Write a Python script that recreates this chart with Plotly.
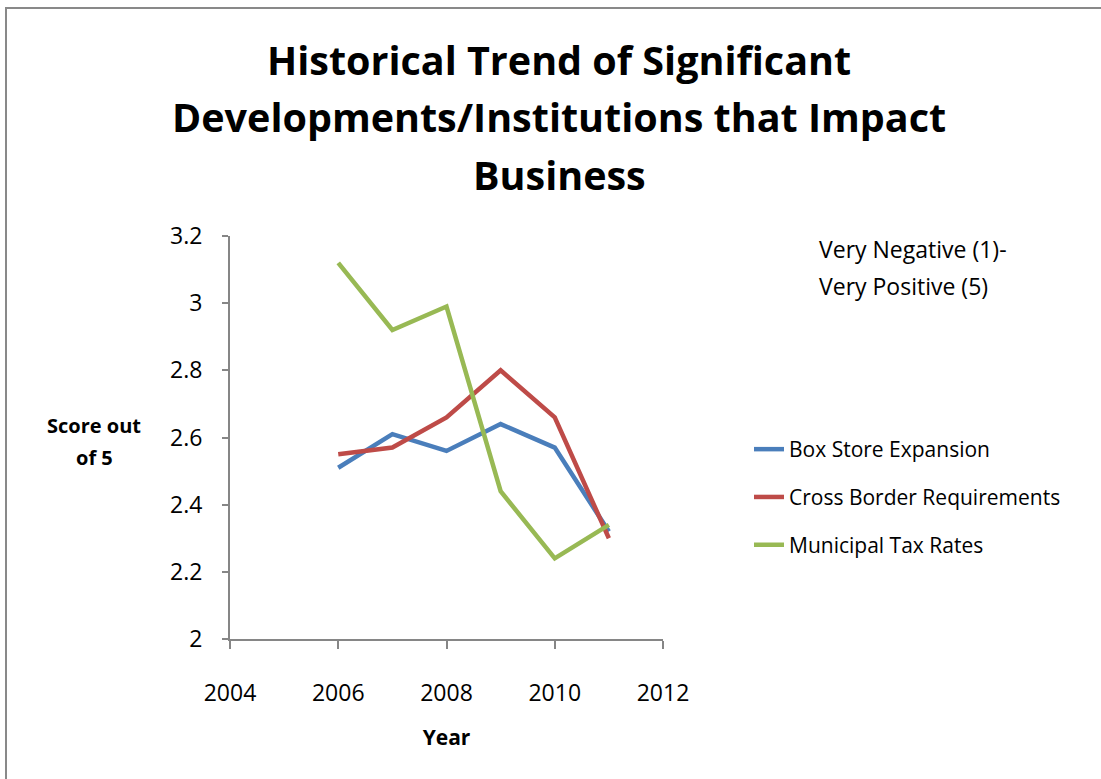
import plotly.graph_objects as go

years = [2006, 2007, 2008, 2009, 2010, 2011]
box_store = [2.51, 2.61, 2.56, 2.64, 2.57, 2.32]
cross_border = [2.55, 2.57, 2.66, 2.80, 2.66, 2.30]
municipal_tax = [3.12, 2.92, 2.99, 2.44, 2.24, 2.34]
series_names = ["Box Store Expansion", "Cross Border Requirements", "Municipal Tax Rates"]
series_colors = ["#4A7EBB", "#BE4B48", "#98B954"]
x_ticks = [2004, 2006, 2008, 2010, 2012]
y_ticks = [2, 2.2, 2.4, 2.6, 2.8, 3, 3.2]
y_tick_text = ["2", "2.2", "2.4", "2.6", "2.8", "3", "3.2"]
title_lines = ["Historical Trend of Significant", "Developments/Institutions that Impact", "Business"]
ylabel_lines = ["Score out", "of 5"]
note_lines = ["Very Negative (1)-", "Very Positive (5)"]

W, H = 1101, 779
L, R, T, B = 230, 663, 236, 639


def px(p):
    return (p - L) / (R - L)


def py(p):
    return (B - p) / (B - T)


fig = go.Figure()
for name, vals, col in zip(series_names, [box_store, cross_border, municipal_tax], series_colors):
    fig.add_trace(go.Scatter(x=years, y=vals, mode="lines", name=name, legendgroup=name,
                             line=dict(color=col, width=4.5)))

FONT = "Open Sans, Lato, sans-serif"
axis_col = "#868686"

fig.update_layout(
    width=W, height=H,
    margin=dict(l=L, r=W - R, t=T, b=H - B, pad=0),
    paper_bgcolor="white", plot_bgcolor="white",
    font=dict(family=FONT, color="black", size=23),
    showlegend=True,
    legend=dict(x=px(749), y=py(429), xanchor="left", yanchor="top",
                font=dict(size=21, family=FONT), tracegroupgap=17.5,
                bgcolor="rgba(0,0,0,0)"),
    xaxis=dict(range=[2004, 2012], tickvals=x_ticks, showgrid=False, zeroline=False,
               showline=True, linecolor=axis_col, linewidth=2, ticks="outside", ticklen=8,
               tickwidth=2, tickcolor=axis_col, ticklabelstandoff=24,
               tickfont=dict(size=23),
               title=dict(text="<b>Year</b>", font=dict(size=21), standoff=24)),
    yaxis=dict(range=[2, 3.2], tickvals=y_ticks, ticktext=y_tick_text, showgrid=False,
               zeroline=False, showline=True, linecolor=axis_col, linewidth=2,
               ticks="outside", ticklen=6, tickwidth=2, tickcolor=axis_col,
               ticklabelstandoff=15, tickfont=dict(size=23)),
)

ann = []
for text, yc in zip(title_lines, [60, 117, 175]):
    ann.append(dict(text="<b>" + text + "</b>", x=px(559), y=py(yc), xref="paper", yref="paper",
                    xanchor="center", yanchor="middle", showarrow=False,
                    font=dict(size=39.5, family=FONT)))
for text, yc in zip(ylabel_lines, [425, 457]):
    ann.append(dict(text="<b>" + text + "</b>", x=px(94), y=py(yc), xref="paper", yref="paper",
                    xanchor="center", yanchor="middle", showarrow=False,
                    font=dict(size=20, family=FONT)))
for text, yc in zip(note_lines, [249, 286]):
    ann.append(dict(text=text, x=px(817), y=py(yc), xref="paper", yref="paper",
                    xanchor="left", yanchor="middle", showarrow=False,
                    font=dict(size=23, family=FONT)))
fig.update_layout(annotations=ann)

fig.add_shape(type="rect", xref="paper", yref="paper", x0=px(6), x1=px(1120), y0=py(800), y1=py(8),
              line=dict(color="#898989", width=2), fillcolor="rgba(0,0,0,0)", layer="below")

fig.write_html("out.html")
